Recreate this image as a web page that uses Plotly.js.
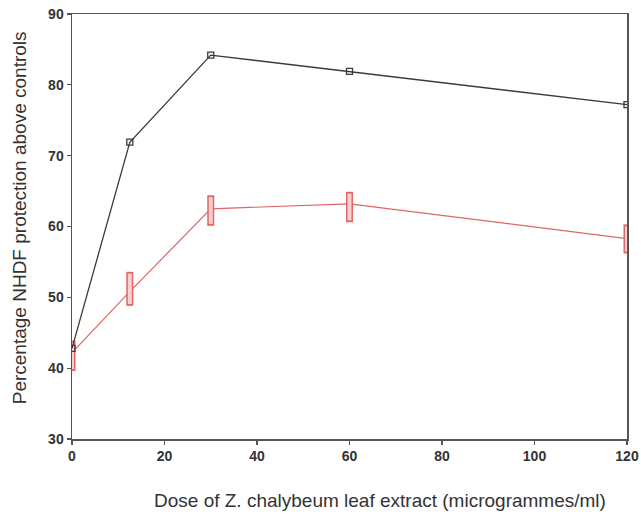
<!DOCTYPE html>
<html>
<head>
<meta charset="utf-8">
<script src="https://cdn.plot.ly/plotly-3.0.1.min.js"></script>
<style>
  html, body { margin: 0; padding: 0; background: #fff; }
  #chart { width: 641px; height: 522px; }
</style>
</head>
<body>
<div id="chart"></div>
<script>
// Dose (micrograms/ml)
var doses = [0, 12.5, 30, 60, 120];
// Upper (black) series
var blackValues = [42.8, 71.9, 84.2, 81.9, 77.2];
// Lower (red) series: mean and spread of replicates
var redMean = [42.2, 50.8, 62.5, 63.2, 58.3];
var redHigh = [43.9, 53.6, 64.4, 64.9, 60.3];
var redLow  = [39.6, 48.8, 60.1, 60.6, 56.2];

var xTicks = [0, 20, 40, 60, 80, 100, 120];
var yTicks = [30, 40, 50, 60, 70, 80, 90];

var xTitle = 'Dose of Z. chalybeum leaf extract (microgrammes/ml)';
var yTitle = 'Percentage NHDF protection above controls';

var inset = 0.25;
var upOuter = redHigh.map(function (h, i) { return h - redMean[i]; });
var dnOuter = redLow.map(function (l, i) { return redMean[i] - l; });
var upInner = upOuter.map(function (v) { return Math.max(v - inset, 0); });
var dnInner = dnOuter.map(function (v) { return Math.max(v - inset, 0); });

var red = '#e26464';

var traces = [
  {
    x: doses, y: redMean, type: 'scatter', mode: 'lines',
    line: { color: red, width: 1.2 },
    error_y: { type: 'data', symmetric: false, array: upOuter, arrayminus: dnOuter,
               color: red, thickness: 7, width: 0 },
    hoverinfo: 'x+y', showlegend: false
  },
  {
    x: doses, y: redMean, type: 'scatter', mode: 'markers',
    marker: { size: 1, color: 'rgba(0,0,0,0)' },
    error_y: { type: 'data', symmetric: false, array: upInner, arrayminus: dnInner,
               color: '#f7d0d0', thickness: 4, width: 0 },
    hoverinfo: 'skip', showlegend: false
  },
  {
    x: doses, y: blackValues, type: 'scatter', mode: 'lines+markers',
    line: { color: '#3a3a3a', width: 1.3 },
    marker: { symbol: 'square-open', size: 6, color: '#3a3a3a', line: { width: 1.3 } },
    showlegend: false
  }
];

var layout = {
  width: 641, height: 522,
  margin: { l: 72, r: 14, t: 14, b: 83 },
  paper_bgcolor: '#fff', plot_bgcolor: '#fff',
  font: { family: 'Liberation Sans, Arial, sans-serif', color: '#333' },
  xaxis: {
    range: [0, 120], tickvals: xTicks, ticktext: xTicks.map(String),
    ticks: 'outside', ticklen: 4, tickcolor: '#555', tickwidth: 1.2,
    showline: true, linecolor: '#555', linewidth: 1.5, mirror: true,
    showgrid: false, zeroline: false,
    tickfont: { size: 14, color: '#333', weight: 'bold' }
  },
  yaxis: {
    range: [30, 90], tickvals: yTicks, ticktext: yTicks.map(String),
    ticks: 'outside', ticklen: 4, tickcolor: '#555', tickwidth: 1.2,
    showline: true, linecolor: '#555', linewidth: 1.5, mirror: true,
    showgrid: false, zeroline: false,
    tickfont: { size: 14, color: '#333', weight: 'bold' }
  },
  annotations: [
    {
      text: xTitle,
      xref: 'paper', yref: 'paper', x: 0.555, y: -0.145,
      xanchor: 'center', yanchor: 'middle', showarrow: false,
      font: { size: 19, color: '#333' }
    },
    {
      text: yTitle, textangle: -90,
      xref: 'paper', yref: 'paper', x: -0.095, y: 0.52,
      xanchor: 'center', yanchor: 'middle', showarrow: false,
      font: { size: 19, color: '#333' }
    }
  ]
};

Plotly.newPlot('chart', traces, layout, { displayModeBar: false, staticPlot: true });
</script>
</body>
</html>
